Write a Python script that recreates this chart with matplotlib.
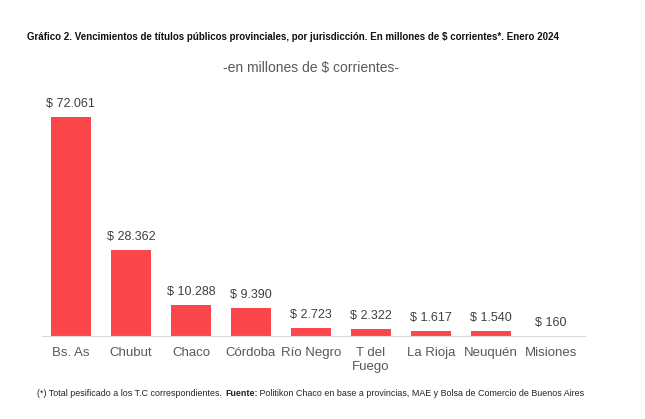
import matplotlib.pyplot as plt

# datos: vencimientos por jurisdicción (millones de $)
provincias = ['Bs. As', 'Chubut', 'Chaco', 'Córdoba', 'Río Negro',
              'T del\nFuego', 'La Rioja', 'Neuquén', 'Misiones']
montos = [72061, 28362, 10288, 9390, 2723, 2322, 1617, 1540, 160]
etiquetas = ['$ 72.061', '$ 28.362', '$ 10.288', '$ 9.390', '$ 2.723',
             '$ 2.322', '$ 1.617', '$ 1.540', '$ 160']

plt.rcParams['font.family'] = ['Liberation Sans', 'DejaVu Sans']

fig = plt.figure(figsize=(6.45, 4.19), dpi=100)
ax = fig.add_axes([0.065, 0.198, 0.842, 0.58])

colores = ['#FB474C'] * (len(montos) - 1) + ['#F5D0D0']
x = range(len(montos))
bars = ax.bar(x, montos, width=0.66, color=colores)
for b, txt in zip(bars, etiquetas):
    ax.annotate(txt, (b.get_x() + b.get_width() / 2, b.get_height()),
                xytext=(0, 5), textcoords='offset points',
                ha='center', va='bottom', fontsize=9, color='#404040')

ax.set_xlim(-0.483, 8.567)
ax.set_ylim(0, 80000)
ax.set_xticks(list(x))
ax.set_xticklabels(provincias, fontsize=9.5, color='#595959', linespacing=1.2)
ax.tick_params(axis='x', length=0, pad=8)
ax.set_yticks([])
for s in ['top', 'right', 'left']:
    ax.spines[s].set_visible(False)
ax.spines['bottom'].set_color('#D9D9D9')

fig.text(0.042, 0.912, 'Gráfico 2. Vencimientos de títulos públicos provinciales, por jurisdicción. '
         'En millones de $ corrientes*. Enero 2024',
         fontsize=7.0, fontweight='bold', color='#111111', va='center')
fig.text(0.482, 0.838, '-en millones de $ corrientes-', fontsize=10,
         color='#595959', ha='center', va='center')

# nota al pie con parte en negrita
pie_y = 0.06
t1 = fig.text(0.058, pie_y, '(*) Total pesificado a los T.C correspondientes. ', fontsize=6.4,
              color='#222222', va='center')
fig.canvas.draw()
x1 = t1.get_window_extent().x1 / fig.bbox.width
t2 = fig.text(x1, pie_y, 'Fuente:', fontsize=6.4, fontweight='bold', color='#222222', va='center')
fig.canvas.draw()
x2 = t2.get_window_extent().x1 / fig.bbox.width
fig.text(x2, pie_y, ' Politikon Chaco en base a provincias, MAE y Bolsa de Comercio de Buenos Aires',
         fontsize=6.4, color='#222222', va='center')

fig.savefig('out.png', dpi=100)
